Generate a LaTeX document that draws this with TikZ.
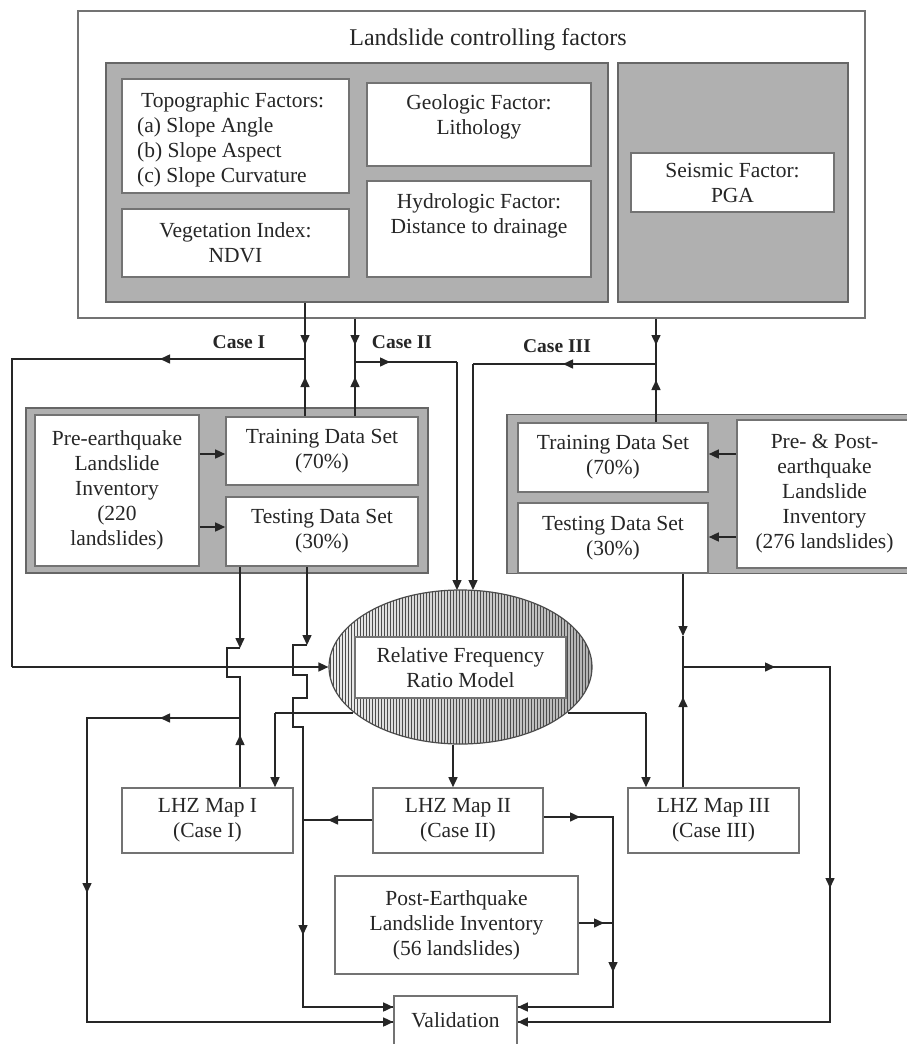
\documentclass[tikz,border=0pt]{standalone}
\usepackage{fontspec}
\setmainfont{Liberation Serif}
\usetikzlibrary{arrows.meta,shapes.geometric,patterns}
\begin{document}
\begin{tikzpicture}[x=1pt,y=-1pt,
  txt/.style={font=\fontsize{21.5}{25}\selectfont, text=black!85, align=center, inner sep=0pt},
  box/.style 2 args={draw=black!55, line width=1.6pt, fill=white, inner sep=0pt,
    minimum width=#1, minimum height=#2, font=\fontsize{21.5}{25}\selectfont, text=black!85, align=center},
  grey/.style 2 args={draw=black!60, line width=1.6pt, fill=gray!62, inner sep=0pt,
    minimum width=#1, minimum height=#2},
  casel/.style={font=\fontsize{19.5}{22}\selectfont\bfseries, text=black!85, inner sep=0pt},
  ln/.style={draw=black!85, line width=1.5pt},
  arr/.style={-{Triangle[length=10pt,width=9pt]}}
]
\useasboundingbox (0,0) rectangle (907,1044);
\clip (0,0) rectangle (907,1044);

% ---------------- top block ----------------
\node[box={787}{307}] (outer) at (471.5,164.5) {};
\node[txt, font=\fontsize{24}{28}\selectfont] (title) at (488,40) {Landslide controlling factors};
\node[grey={502}{239}] (lgrey) at (357,182.5) {};
\node[grey={230}{239}] (rgrey) at (733,182.5) {};
\node[box={227}{114}] (topo) at (235.5,136) {};
\node[txt, align=left, anchor=west] (topot) at (137,139.5) {\hspace*{4pt}Topographic Factors:\\(a) Slope Angle\\(b) Slope Aspect\\(c) Slope Curvature};
\node[box={224}{83}] (geo) at (479,124.5) {};
\node[txt] (geot) at (479,117) {Geologic Factor:\\Lithology};
\node[box={227}{68}] (veg) at (235.5,243) {Vegetation Index:\\NDVI};
\node[box={224}{96}] (hyd) at (479,229) {};
\node[txt] (hydt) at (479,216) {Hydrologic Factor:\\Distance to drainage};
\node[box={203}{59}] (seis) at (732.5,182.5) {Seismic Factor:\\PGA};

% ---------------- data sets ----------------
\node[grey={402}{165}] (lg2) at (227,490.5) {};
\node[box={164}{151}] (pre1) at (117,490.5) {Pre-earthquake\\Landslide\\Inventory\\(220\\landslides)};
\node[box={192}{68}] (train1) at (322,451) {Training Data Set\\(70\%)};
\node[box={192}{69}] (test1) at (322,531.5) {Testing Data Set\\(30\%)};

\node[grey={410}{159}] (rg2) at (712,494) {};
\node[box={190}{69}] (train3) at (613,457.5) {Training Data Set\\(70\%)};
\node[box={190}{70}] (test3) at (613,538) {Testing Data Set\\(30\%)};
\node[box={175}{148}] (pre3) at (824.5,494) {Pre- \& Post-\\earthquake\\Landslide\\Inventory\\(276 landslides)};

% ---------------- model ----------------
\node[ellipse, minimum width=263, minimum height=154, inner sep=0pt, draw=black!70, line width=1.2pt,
  preaction={left color=gray!15, right color=gray!60}, pattern=vertical lines, pattern color=black!70] (ell) at (460.5,667) {};
\node[box={211}{61}] (rfr) at (460.5,667.5) {Relative Frequency\\Ratio Model};

\node[box={171}{65}] (lhz1) at (207.5,820.5) {LHZ Map I\\(Case I)};
\node[box={170}{65}] (lhz2) at (458,820.5) {LHZ Map II\\(Case II)};
\node[box={171}{65}] (lhz3) at (713.5,820.5) {LHZ Map III\\(Case III)};
\node[box={243}{98}] (post) at (456.5,925) {Post-Earthquake\\Landslide Inventory\\(56 landslides)};
\node[box={123}{60}, anchor=north] (valid) at (455.5,995) {};
\node[txt] (validt) at (455.5,1020) {Validation};

% ---------------- case labels ----------------
\node[casel] (c1) at (239,342) {Case I};
\node[casel] (c2) at (402,342) {Case II};
\node[casel] (c3) at (557,346) {Case III};

% junctions
\coordinate (j1) at (305,359);
\coordinate (j2) at (355,362);
\coordinate (j3) at (656,364);
\coordinate (j4) at (240,718);
\coordinate (j5) at (683,667);

% ---------------- Case I ----------------
\draw[ln] (lgrey.south -| j1) -- (j1 |- train1.north);
\draw[ln,arr] (lgrey.south -| j1) -- (305,345);
\draw[ln,arr] (j1 |- train1.north) -- (305,377);
\draw[ln] (j1) -- (12,359) -- (12,667);
\draw[ln,arr] (j1) -- (160,359);
\draw[ln,arr] (12,667) -- (ell.west);

% ---------------- Case II ----------------
\draw[ln] (outer.south -| j2) -- (j2 |- train1.north);
\draw[ln,arr] (outer.south -| j2) -- (355,345);
\draw[ln,arr] (j2 |- train1.north) -- (355,377);
\draw[ln] (j2) -- (457,362);
\draw[ln,arr] (j2) -- (390,362);
\draw[ln,arr] (457,362) -- (457,590);

% ---------------- Case III ----------------
\draw[ln] (outer.south -| j3) -- (j3 |- train3.north);
\draw[ln,arr] (outer.south -| j3) -- (656,345);
\draw[ln,arr] (j3 |- train3.north) -- (656,380);
\draw[ln] (j3) -- (473,364);
\draw[ln,arr] (j3) -- (563,364);
\draw[ln,arr] (473,364) -- (473,590);

% ---------------- inventories to data sets ----------------
\draw[ln,arr] (pre1.east |- 0,454) -- (train1.west |- 0,454);
\draw[ln,arr] (pre1.east |- 0,527) -- (test1.west |- 0,527);
\draw[ln,arr] (pre3.west |- 0,454) -- (train3.east |- 0,454);
\draw[ln,arr] (pre3.west |- 0,537) -- (test3.east |- 0,537);

% ---------------- testing (Case I) line A ----------------
\draw[ln,arr] (test1.south -| j4) -- (240,648);
\draw[ln] (240,648) -- (227,648) -- (227,677) -- (240,677) -- (j4);
\draw[ln] (lhz1.north -| j4) -- (j4) -- (87,718) -- (87,1022) -- (valid.west |- 0,1022);
\draw[ln,arr] (lhz1.north -| j4) -- (240,735);
\draw[ln,arr] (j4) -- (160,718);
\draw[ln,arr] (87,718) -- (87,893);
\draw[ln,arr] (87,1022) -- (valid.west |- 0,1022);

% ---------------- testing (Case II) line B ----------------
\draw[ln,arr] (test1.south -| 307,0) -- (307,645);
\draw[ln] (307,645) -- (293,645) -- (293,675) -- (307,675) -- (307,698) -- (293,698) -- (293,727) -- (303,727) -- (303,1007) -- (valid.west |- 0,1007);
\draw[ln,arr] (303,727) -- (303,935);
\draw[ln,arr] (303,1007) -- (valid.west |- 0,1007);

% ---------------- model to maps ----------------
\draw[ln] (353,713) -- (275,713);
\draw[ln,arr] (275,713) -- (lhz1.north -| 275,0);
\draw[ln,arr] (ell.south -| 453,0) -- (lhz2.north -| 453,0);
\draw[ln] (568,713) -- (646,713);
\draw[ln,arr] (646,713) -- (lhz3.north -| 646,0);

% ---------------- map II to validation ----------------
\draw[ln] (lhz2.west |- 0,820) -- (303,820);
\draw[ln,arr] (lhz2.west |- 0,820) -- (328,820);
\draw[ln] (lhz2.east |- 0,817) -- (613,817) -- (613,1007) -- (valid.east |- 0,1007);
\draw[ln,arr] (lhz2.east |- 0,817) -- (580,817);
\draw[ln,arr] (613,817) -- (613,972);
\draw[ln,arr] (613,1007) -- (valid.east |- 0,1007);
\draw[ln] (post.east |- 0,923) -- (613,923);
\draw[ln,arr] (post.east |- 0,923) -- (604,923);

% ---------------- Case III testing / map III ----------------
\draw[ln,arr] (test3.south -| j5) -- (683,636);
\draw[ln] (683,636) -- (j5);
\draw[ln] (lhz3.north -| j5) -- (j5);
\draw[ln,arr] (lhz3.north -| j5) -- (683,697);
\draw[ln] (j5) -- (830,667) -- (830,1022) -- (valid.east |- 0,1022);
\draw[ln,arr] (j5) -- (775,667);
\draw[ln,arr] (830,667) -- (830,888);
\draw[ln,arr] (830,1022) -- (valid.east |- 0,1022);
\end{tikzpicture}
\end{document}
